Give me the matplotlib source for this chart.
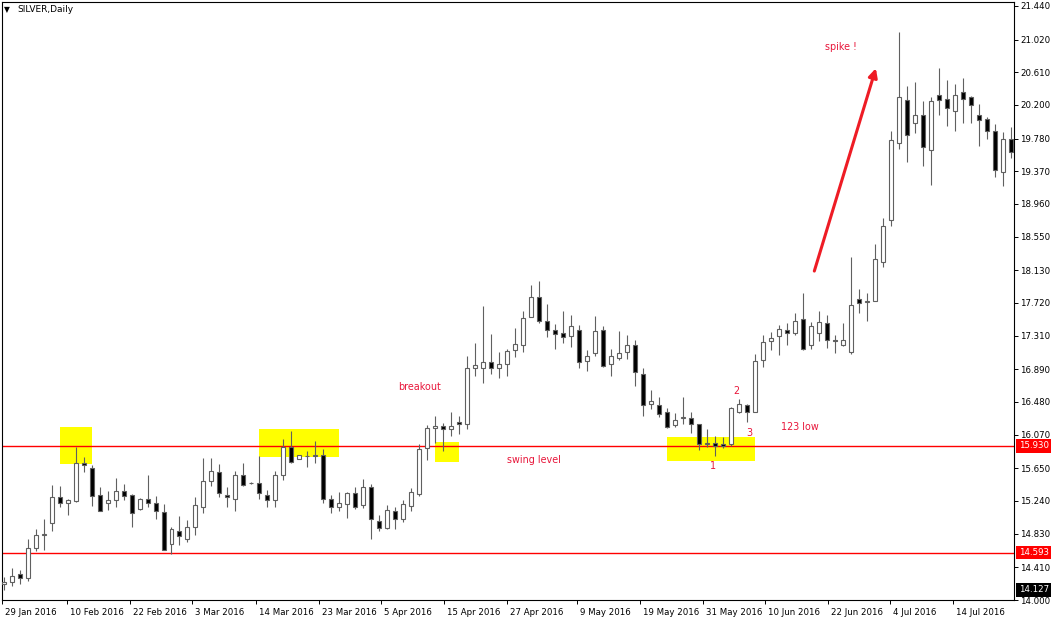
import matplotlib.pyplot as plt
from matplotlib.patches import Rectangle
from matplotlib.transforms import blended_transform_factory

# daily SILVER candles (29 Jan 2016 .. 20 Jul 2016)
opens = [14.20, 14.22, 14.32, 14.28, 14.65, 14.82, 14.97, 15.29, 15.22, 15.24,
         15.72, 15.65, 15.31, 15.21, 15.25, 15.37, 15.31, 15.14, 15.26, 15.21,
         15.10, 14.70, 14.87, 14.77, 14.92, 15.17, 15.49, 15.60, 15.32, 15.26,
         15.56, 15.47, 15.47, 15.32, 15.25, 15.56, 15.92, 15.77, 15.80, 15.80,
         15.82, 15.27, 15.16, 15.20, 15.34, 15.19, 15.41, 14.99, 14.90, 15.11,
         15.02, 15.18, 15.33, 15.90, 16.15, 16.18, 16.14, 16.23, 16.20, 16.90,
         16.91, 16.98, 16.90, 16.95, 17.13, 17.20, 17.55, 17.79, 17.50, 17.38,
         17.35, 17.31, 17.38, 16.99, 17.09, 17.38, 16.96, 17.03, 17.10, 17.20,
         16.83, 16.45, 16.44, 16.35, 16.19, 16.28, 16.28, 16.20, 15.96, 15.97,
         15.95, 15.96, 16.35, 16.44, 16.36, 17.00, 17.24, 17.31, 17.38, 17.34,
         17.52, 17.19, 17.34, 17.47, 17.26, 17.20, 17.10, 17.77, 17.73, 17.74,
         18.23, 18.76, 19.73, 20.26, 19.97, 20.07, 19.64, 20.33, 20.27, 20.13,
         20.36, 20.30, 20.08, 20.02, 19.88, 19.36, 19.77]
highs = [14.29, 14.40, 14.38, 14.77, 14.89, 15.02, 15.44, 15.43, 15.27, 15.92,
         15.79, 15.69, 15.42, 15.37, 15.53, 15.45, 15.33, 15.28, 15.57, 15.30,
         15.20, 14.91, 15.05, 15.00, 15.29, 15.78, 15.78, 15.70, 15.42, 15.62,
         15.72, 15.48, 15.80, 15.38, 15.62, 16.02, 16.12, 15.82, 15.87, 15.99,
         15.89, 15.32, 15.35, 15.35, 15.42, 15.52, 15.45, 15.06, 15.19, 15.17,
         15.25, 15.40, 15.95, 16.19, 16.30, 16.22, 16.35, 16.30, 17.06, 17.22,
         17.68, 17.33, 17.11, 17.14, 17.41, 17.62, 17.95, 18.00, 17.71, 17.46,
         17.62, 17.57, 17.44, 17.13, 17.56, 17.43, 17.15, 17.37, 17.32, 17.26,
         16.90, 16.63, 16.54, 16.41, 16.34, 16.54, 16.35, 16.21, 16.14, 16.06,
         16.04, 16.42, 16.52, 16.46, 17.08, 17.32, 17.36, 17.44, 17.47, 17.59,
         17.85, 17.48, 17.62, 17.57, 17.32, 17.47, 18.30, 17.89, 17.84, 18.46,
         18.79, 19.87, 21.11, 20.44, 20.49, 20.25, 20.30, 20.66, 20.51, 20.46,
         20.54, 20.31, 20.21, 20.05, 19.96, 19.86, 19.93]
lows = [14.13, 14.18, 14.20, 14.24, 14.61, 14.62, 14.86, 15.16, 15.06, 15.23,
        15.60, 15.18, 15.11, 15.13, 15.17, 15.25, 14.91, 15.13, 15.16, 15.01,
        14.62, 14.58, 14.69, 14.73, 14.81, 15.09, 15.43, 15.29, 15.16, 15.12,
        15.43, 15.45, 15.26, 15.16, 15.17, 15.50, 15.71, 15.77, 15.67, 15.72,
        15.21, 15.09, 15.11, 15.03, 15.14, 15.15, 14.76, 14.87, 14.89, 14.89,
        14.98, 15.12, 15.30, 15.75, 15.97, 15.87, 16.06, 16.08, 16.14, 16.81,
        16.72, 16.83, 16.78, 16.80, 17.04, 17.11, 17.54, 17.47, 17.30, 17.15,
        17.22, 17.17, 16.91, 16.87, 17.06, 16.92, 16.80, 17.00, 17.02, 16.68,
        16.31, 16.39, 16.29, 16.16, 16.17, 16.20, 16.09, 15.88, 15.92, 15.80,
        15.90, 15.93, 16.34, 16.23, 16.35, 16.92, 17.13, 17.07, 17.20, 17.32,
        17.13, 17.15, 17.25, 17.16, 17.09, 17.18, 17.08, 17.60, 17.50, 17.74,
        18.17, 18.68, 19.65, 19.49, 19.85, 19.44, 19.20, 20.08, 19.94, 19.87,
        19.98, 19.97, 19.69, 19.78, 19.30, 19.19, 19.54]
closes = [14.22, 14.30, 14.27, 14.65, 14.82, 14.83, 15.29, 15.21, 15.25, 15.72,
          15.69, 15.30, 15.12, 15.25, 15.37, 15.30, 15.09, 15.27, 15.21, 15.12,
          14.63, 14.89, 14.80, 14.92, 15.19, 15.49, 15.61, 15.34, 15.29, 15.57,
          15.44, 15.46, 15.34, 15.25, 15.56, 15.92, 15.73, 15.81, 15.80, 15.82,
          15.26, 15.17, 15.21, 15.34, 15.17, 15.41, 15.01, 14.90, 15.13, 15.02,
          15.20, 15.35, 15.89, 16.15, 16.18, 16.14, 16.18, 16.20, 16.91, 16.94,
          16.98, 16.91, 16.95, 17.12, 17.21, 17.53, 17.79, 17.49, 17.38, 17.33,
          17.29, 17.43, 16.98, 17.06, 17.37, 16.93, 17.06, 17.09, 17.20, 16.85,
          16.44, 16.49, 16.33, 16.17, 16.26, 16.29, 16.21, 15.95, 15.97, 15.93,
          15.93, 16.40, 16.45, 16.36, 16.99, 17.23, 17.28, 17.40, 17.34, 17.50,
          17.14, 17.43, 17.48, 17.26, 17.24, 17.26, 17.70, 17.72, 17.75, 18.27,
          18.69, 19.76, 20.30, 19.82, 20.07, 19.67, 20.25, 20.26, 20.16, 20.33,
          20.28, 20.20, 20.01, 19.88, 19.38, 19.77, 19.61]

date_labels = ["29 Jan 2016", "10 Feb 2016", "22 Feb 2016", "3 Mar 2016",
               "14 Mar 2016", "23 Mar 2016", "5 Apr 2016", "15 Apr 2016",
               "27 Apr 2016", "9 May 2016", "19 May 2016", "31 May 2016",
               "10 Jun 2016", "22 Jun 2016", "4 Jul 2016", "14 Jul 2016"]
date_pos = [-0.2, 7.9, 15.75, 23.6, 31.6, 39.4, 47.25, 55.1,
            63.0, 71.75, 79.6, 87.5, 95.25, 103.1, 110.9, 118.75]
price_ticks = [21.440, 21.020, 20.610, 20.200, 19.780, 19.370, 18.960,
               18.550, 18.130, 17.720, 17.310, 16.890, 16.480, 16.070,
               15.650, 15.240, 14.830, 14.410, 14.000]
level_lines = [15.930, 14.593]
last_price = 14.127

RED = '#ee1c25'
TXT_RED = '#e8163a'
EDGE = '#606060'

fig = plt.figure(figsize=(10.56, 6.24), dpi=100)
ax = fig.add_axes([2 / 1056, 24 / 624, 1012 / 1056, 598 / 624])
ax.set_xlim(-0.125, 126.375)
ax.set_ylim(14.0, 21.49)

# yellow highlight boxes
for x0, x1, y0, y1 in [(7.0, 11.0, 15.70, 16.17), (32.0, 42.0, 15.79, 16.14),
                       (54.0, 57.0, 15.73, 15.98), (83.0, 94.0, 15.74, 16.04)]:
    ax.add_patch(Rectangle((x0, y0), x1 - x0, y1 - y0, facecolor='#ffff00',
                           edgecolor='none', zorder=0.5))

# horizontal levels
for lv in level_lines:
    ax.axhline(lv, color='#ff0000', lw=1.0, zorder=1.5)

# candles
xs = list(range(len(opens)))
bottoms = [min(o, c) for o, c in zip(opens, closes)]
heights = [abs(c - o) for o, c in zip(opens, closes)]
fills = ['white' if c >= o else 'black' for o, c in zip(opens, closes)]
ax.vlines(xs, lows, highs, color=EDGE, lw=0.8, zorder=2)
ax.bar(xs, heights, bottom=bottoms, width=0.5, color=fills,
       edgecolor=EDGE, linewidth=0.8, zorder=3)

# annotations
ax.text(49.4, 16.67, "breakout", color=TXT_RED, fontsize=6.9, va='center', ha='left')
ax.text(63.0, 15.75, "swing level", color=TXT_RED, fontsize=6.9, va='center', ha='left')
ax.text(102.75, 20.93, "spike !", color=TXT_RED, fontsize=6.9, va='center', ha='left')
ax.text(97.25, 16.17, "123 low", color=TXT_RED, fontsize=6.9, va='center', ha='left')
ax.text(88.75, 15.68, "1", color=TXT_RED, fontsize=6.9, va='center', ha='center')
ax.text(91.6, 16.62, "2", color=TXT_RED, fontsize=6.9, va='center', ha='center')
ax.text(93.25, 16.09, "3", color=TXT_RED, fontsize=6.9, va='center', ha='center')
ax.annotate('', xy=(109.1, 20.66), xytext=(101.4, 18.12),
            arrowprops=dict(arrowstyle='-|>', color=RED, lw=2.2,
                            mutation_scale=13, shrinkA=0, shrinkB=0),
            zorder=4)

# axes frame and ticks
for sp in ax.spines.values():
    sp.set_color('black')
    sp.set_linewidth(0.8)
ax.yaxis.tick_right()
ax.set_yticks(price_ticks, labels=[f"{v:.3f}" for v in price_ticks])
ax.tick_params(axis='y', direction='out', length=3, width=0.7, pad=1.5,
               labelsize=6.2, colors='black')
ax.set_xticks(date_pos, labels=[''] * len(date_pos))
ax.tick_params(axis='x', direction='out', length=3, width=0.7)
for pos, lab in zip(date_pos, date_labels):
    ax.annotate(lab, xy=(pos, 0), xycoords=('data', 'axes fraction'),
                xytext=(2.2, -9.3), textcoords='offset points',
                fontsize=6.2, ha='left', va='center', annotation_clip=False)

# price labels on the right axis
tr = blended_transform_factory(ax.transAxes, ax.transData)
for lv in level_lines:
    ax.text(1.0045, lv, f"{lv:.3f}", transform=tr, color='white', fontsize=6.2,
            ha='left', va='center', clip_on=False, zorder=5,
            bbox=dict(boxstyle='square,pad=0.25', facecolor='#ff0000', edgecolor='none'))
ax.text(1.0045, last_price, f"{last_price:.3f}", transform=tr, color='white',
        fontsize=6.2, ha='left', va='center', clip_on=False, zorder=5,
        bbox=dict(boxstyle='square,pad=0.25', facecolor='black', edgecolor='none'))

# header
fig.text(4 / 1056, 1 - 9.5 / 624, "\u25bc", fontsize=5.5, va='center', ha='left')
fig.text(17 / 1056, 1 - 10 / 624, "SILVER,Daily", fontsize=6.5, va='center', ha='left')

fig.savefig("out.png", dpi=100)
